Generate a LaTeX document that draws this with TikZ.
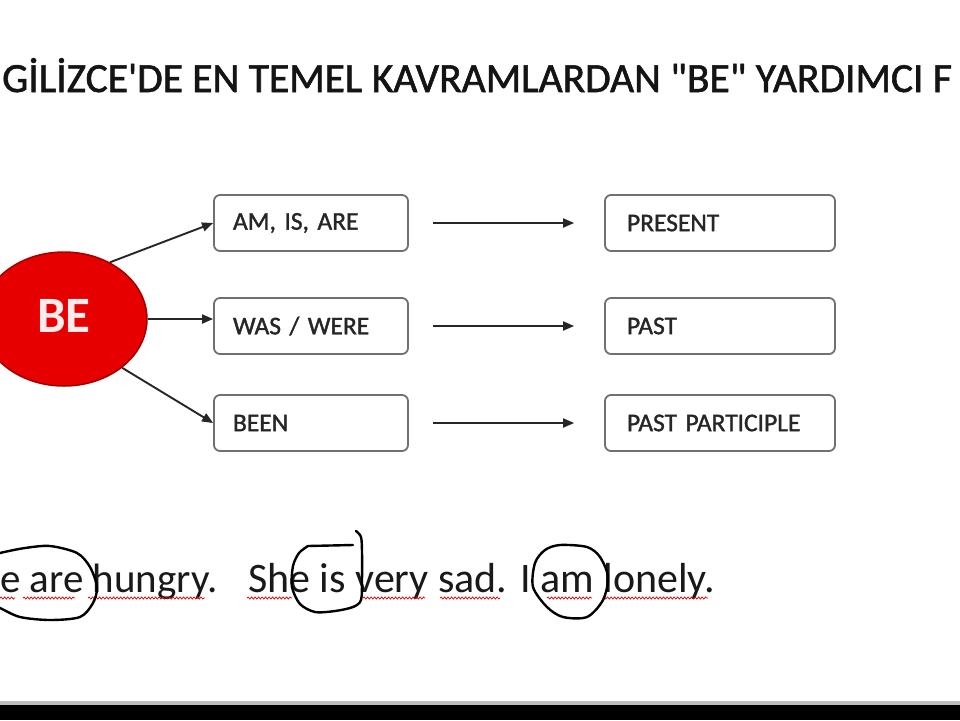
\documentclass[tikz,border=0pt]{standalone}
\usepackage{fontspec}
\newfontfamily\carl{Carlito}[Ligatures=ResetAll]
\newfontfamily\carlfb{Carlito}[Ligatures=ResetAll, FakeBold=1.4]
\usetikzlibrary{shapes.geometric,arrows.meta,decorations.pathmorphing}
\definecolor{bered}{HTML}{E60000}
\definecolor{beborder}{HTML}{A30000}
\definecolor{boxgray}{HTML}{707070}
\definecolor{txt}{HTML}{262626}
\begin{document}
\begin{tikzpicture}[x=1pt,y=-1pt,
  lbox/.style={draw=boxgray, line width=1.8pt, rounded corners=6pt, minimum width=194pt, minimum height=56pt, text width=156pt, inner xsep=19pt, inner ysep=0pt, align=left, font={\carlfb\fontsize{25.5}{28}\selectfont\spaceskip=0.12em\relax}, text=txt},
  rbox/.style={lbox, minimum width=230pt, text width=186pt, inner xsep=22pt},
  arr/.style={line width=1.9pt, draw=black!85, -{Triangle[length=11pt,width=9pt]}},
  circ/.style={line width=2.4pt, line join=round, line cap=round},
  wavy/.style={red!85!black, line width=0.7pt, decorate, decoration={snake, amplitude=1.1pt, segment length=3.5pt}},
  words/.style={anchor=base west, inner sep=0pt, font=\carl\fontsize{42}{46}\selectfont, text=black!90}]
\useasboundingbox (0,0) rectangle (960,720);
\clip (0,0) rectangle (960,720);
\fill[white] (0,0) rectangle (960,705);
\fill[gray!50] (0,701) rectangle (960,705);
\fill[black] (0,705) rectangle (960,720);

% title
\node[anchor=base west, inner sep=0pt, font=\carlfb\fontsize{41.5}{44}\selectfont, text=black!92] (title) at (2,92) {GİLİZCE'DE EN TEMEL KAVRAMLARDAN "BE" YARDIMCI F};

% BE
\node[ellipse, fill=bered, draw=beborder, line width=1.5pt, minimum width=166pt, minimum height=134pt, inner sep=0pt, text=white!92!red, font=\carl\bfseries\fontsize{51}{51}\selectfont] (be) at (64,319) {\raisebox{7pt}{BE}};

% boxes
\node[lbox] (l1) at (311,223) {AM, IS, ARE};
\node[lbox] (l2) at (311,326) {WAS / WERE};
\node[lbox] (l3) at (311,423) {BEEN};
\node[rbox] (r1) at (720,223) {PRESENT};
\node[rbox] (r2) at (720,326) {PAST};
\node[rbox] (r3) at (720,423) {PAST PARTICIPLE};

% arrows
\draw[arr] (be.51) -- (l1.west);
\draw[arr] (be.east) -- (be.east -| l2.west);
\draw[arr] (be.-40) -- (l3.west);
\draw[arr, shorten <=24pt, shorten >=30pt] (l1.east) -- (r1.west);
\draw[arr, shorten <=24pt, shorten >=30pt] (l2.east) -- (r2.west);
\draw[arr, shorten <=24pt, shorten >=30pt] (l3.east) -- (r3.west);

% sentence
\node[words, font=\carl\fontsize{41}{45}\selectfont] (s1) at (0,592) {e are hungry.};
\node[words] (s2) at (248,592) {She is very sad. I am lonely.};

% spell-check underlines
\foreach \a/\b in {0/15, 23/75, 88/205, 247/292, 363/425, 440/500, 547/592, 603/708}
  \draw[wavy] (\a,598) -- (\b,598);

% hand-drawn marks
\draw[circ] plot[smooth] coordinates {(-12,557) (0,553) (25,548) (50,546) (77,553) (90,567) (97,587) (93,603) (80,617) (50,620) (20,617) (0,608) (-12,603)};
\draw[circ] plot[smooth] coordinates {(356,531) (361,537) (362,552) (362,580) (361,600) (353,607) (335,611) (315,612) (300,604) (292,587) (293,566) (299,553) (308,546)} -- (353,545);
\draw[circ] plot[smooth cycle] coordinates {(560,545) (587,547) (600,557) (608,577) (603,600) (587,617) (563,617) (547,607) (533,587) (535,563) (545,550)};
\end{tikzpicture}
\end{document}
